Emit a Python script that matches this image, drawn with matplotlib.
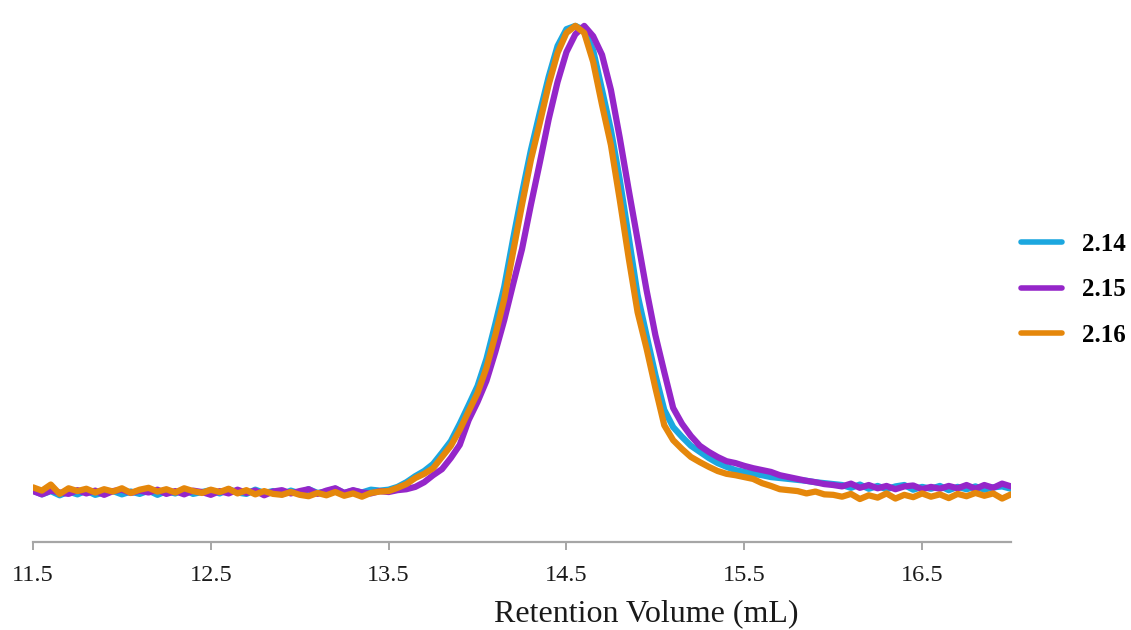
"""
SEC overlay: retention volume traces for three samples
"""
import numpy as np
import matplotlib.pyplot as plt

# sample grid (mL), one reading every 0.05 mL
volume_ml = np.linspace(11.5, 17.0, 111)

# normalised signal (% of peak)
signal_214 = [
    0.3, -0.5, 0.2, -0.7, 0.1, -0.5, 0.3, -0.6, -0.1, 0.2,
    -0.5, 0.1, -0.4, 0.3, -0.6, 0.2, -0.3, 0.5, -0.4, 0.0,
    0.4, -0.3, 0.6, -0.1, -0.4, 0.5, -0.2, 0.2, -0.5, 0.3,
    -0.3, 0.6, -0.2, 0.1, 0.7, -0.2, 0.3, -0.1, 0.5, 0.3,
    0.5, 1.1, 2.1, 3.4, 4.5, 6.0, 8.4, 10.9, 14.6, 18.6,
    22.7, 28.5, 36.0, 43.9, 54.2, 64.0, 73.2, 81.2, 88.9, 95.5,
    99.1, 99.8, 98.9, 94.6, 86.1, 77.5, 66.8, 54.6, 42.2, 33.6,
    25.1, 17.6, 13.9, 11.8, 9.9, 8.6, 7.3, 6.2, 5.4, 4.7,
    4.3, 3.9, 3.6, 3.2, 3.0, 2.8, 2.6, 2.4, 2.1, 1.9,
    1.7,
    1.5, 0.9, 1.6, 0.7, 1.3, 0.6, 1.2, 1.5, 0.5, 1.1,
    0.7, 1.3, 0.4, 1.1, 0.6, 1.2, 0.5, 1.0, 1.2, 0.7,
]
signal_215 = [
    0.2, -0.5, 0.3, -0.1, -0.4, 0.4, -0.3, 0.3, -0.6, 0.2,
    0.5, -0.2, 0.3, -0.1, 0.5, -0.4, 0.2, -0.5, 0.3, 0.0,
    -0.6, 0.2, -0.3, 0.5, -0.2, 0.3, -0.7, 0.1, 0.4, -0.3,
    0.2, 0.6, -0.4, 0.3, 0.8, -0.2, 0.4, -0.1, -0.3, 0.2,
    0.0, 0.4, 0.6, 1.1, 2.1, 3.6, 4.9, 7.3, 10.1, 15.4,
    19.3, 23.8, 30.0, 36.8, 44.5, 52.0, 61.5, 70.5, 79.8, 87.8,
    94.2, 98.0, 99.8, 97.6, 93.6, 86.1, 75.8, 64.7, 54.0, 43.3,
    33.6, 25.7, 18.0, 14.6, 12.0, 9.9, 8.6, 7.5, 6.6, 6.2,
    5.6, 5.1, 4.7, 4.3, 3.6, 3.2, 2.8, 2.4, 2.1, 1.7,
    1.5,
    1.2, 1.8, 0.9, 1.5, 0.8, 1.3, 0.6, 1.2, 1.4, 0.6,
    1.1, 0.7, 1.3, 0.8, 1.5, 0.7, 1.5, 0.9, 1.8, 1.2,
]
signal_216 = [
    1.0, 0.3, 1.6, -0.4, 0.8, 0.2, 0.7, -0.1, 0.6, 0.1,
    0.8, -0.2, 0.5, 0.9, 0.1, 0.6, -0.1, 0.8, 0.2, -0.2,
    0.5, 0.0, 0.7, -0.3, 0.4, -0.5, 0.2, -0.4, -0.6, 0.0,
    -0.6, -0.9, -0.2, -0.7, 0.0, -0.8, -0.3, -1.0, -0.2, 0.1,
    0.2, 0.9, 1.7, 3.0, 3.9, 5.1, 7.5, 9.9, 13.3, 17.3,
    21.2, 26.6, 33.6, 41.3, 51.4, 61.5, 71.1, 79.0, 87.2, 94.0,
    98.3, 99.8, 98.3, 92.1, 82.9, 74.3, 62.5, 50.1, 38.5, 30.8,
    22.3, 14.3, 11.1, 9.2, 7.5, 6.4, 5.4, 4.5, 3.9, 3.6,
    3.2, 2.8, 1.9, 1.3, 0.6, 0.4, 0.2, -0.3, 0.1, -0.5,
    -0.6,
    -1.0, -0.4, -1.5, -0.7, -1.2, -0.3, -1.4, -0.6, -1.1, -0.3,
    -1.0, -0.5, -1.3, -0.4, -0.9, -0.2, -0.8, -0.3, -1.4, -0.5,
]
labels = ["2.14", "2.15", "2.16"]
colors = ["#1CA7DF", "#9526C9", "#E5870B"]
x_ticks = [11.5, 12.5, 13.5, 14.5, 15.5, 16.5]

SERIF = ["Liberation Serif", "DejaVu Serif"]


def main():
    fig = plt.figure(figsize=(11.31, 6.30), dpi=100)
    ax = fig.add_axes([33 / 1131, 88 / 630, 978 / 1131, 532 / 630])

    for sig, lab, col in zip([signal_214, signal_215, signal_216], labels, colors):
        ax.plot(volume_ml, sig, color=col, lw=4.5, label=lab,
                solid_capstyle="round", solid_joinstyle="round")

    ax.set_xlim(11.5, 17.0)
    ax.set_ylim(-10.7, 103.2)
    ax.set_xticks(x_ticks)
    ax.set_xticklabels([f"{t:.1f}" for t in x_ticks], family=SERIF, fontsize=17.5)
    ax.set_yticks([])
    for side in ["left", "right", "top"]:
        ax.spines[side].set_visible(False)
    ax.spines["bottom"].set_color("#A6A6A6")
    ax.spines["bottom"].set_linewidth(1.6)
    ax.tick_params(axis="x", direction="out", length=5.5, width=1.4,
                   color="#A6A6A6", pad=11, labelcolor="#1a1a1a")

    fig.text(646 / 1131, 1 - 614 / 630, "Retention Volume (mL)",
             ha="center", va="center", fontsize=23, family=SERIF, color="#1a1a1a")

    leg = fig.legend(loc="center left", bbox_to_anchor=(1021 / 1131, 1 - 290 / 630),
                     frameon=False, borderpad=0, borderaxespad=0,
                     handlelength=1.65, handletextpad=0.8, labelspacing=0.9,
                     prop={"family": SERIF, "weight": "bold", "size": 18})
    for line in leg.get_lines():
        line.set_linewidth(4.0)

    fig.savefig("out.png", dpi=100)


main()
